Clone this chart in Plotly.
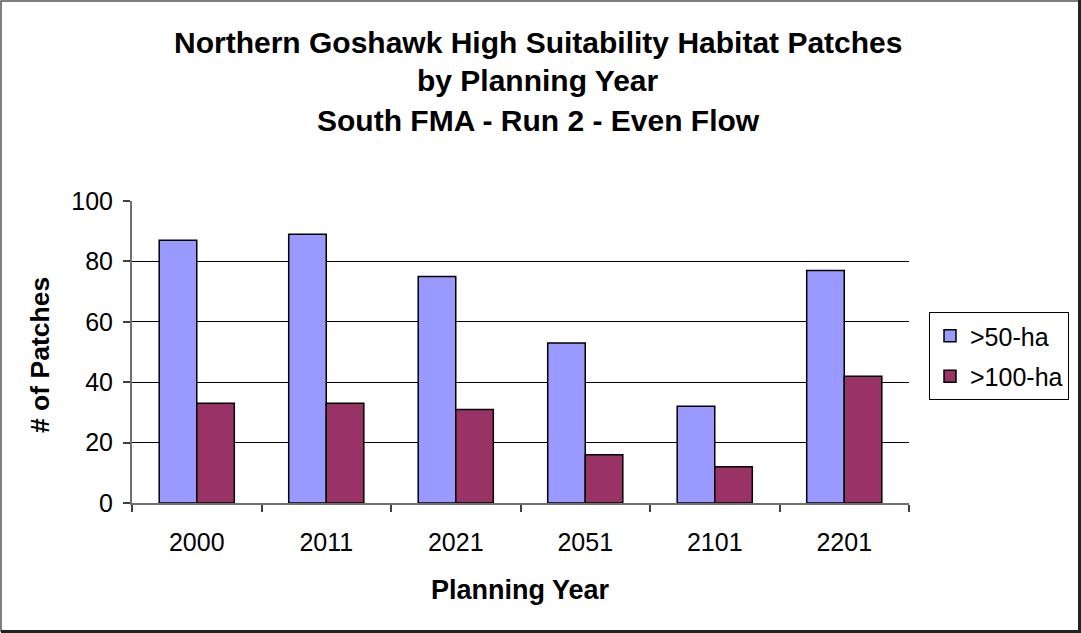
import plotly.graph_objects as go

years = ["2000", "2011", "2021", "2051", "2101", "2201"]
ha50 = [87, 89, 75, 53, 32, 77]
ha100 = [33, 33, 31, 16, 12, 42]
series_names = [">50-ha", ">100-ha"]
title_lines = ["Northern Goshawk High Suitability Habitat Patches",
               "by Planning Year",
               "South FMA - Run 2 - Even Flow"]
y_ticks = [0, 20, 40, 60, 80, 100]

W, H = 1081, 633
L, R, T, B = 132, 909, 201, 503
pw, ph = R - L, B - T

def px_x(x):
    return (x - L) / pw

def px_y(y):
    return (B - y) / ph

FONT = "Liberation Sans, Arial, sans-serif"

fig = go.Figure()
fig.add_trace(go.Bar(x=years, y=ha50, name=series_names[0], legendgroup="a",
                     marker=dict(color="#9999FF", line=dict(color="black", width=1.5))))
fig.add_trace(go.Bar(x=years, y=ha100, name=series_names[1], legendgroup="b",
                     marker=dict(color="#993366", line=dict(color="black", width=1.5))))

annotations = []
for txt, yy in zip(title_lines, [42, 81, 120]):
    annotations.append(dict(text="<b>%s</b>" % txt, x=px_x(538), y=px_y(yy),
                            xref="paper", yref="paper", showarrow=False,
                            xanchor="center", yanchor="middle",
                            font=dict(family=FONT, size=30, color="black")))
annotations.append(dict(text="<b>Planning Year</b>", x=px_x(520), y=px_y(590),
                        xref="paper", yref="paper", showarrow=False,
                        xanchor="center", yanchor="middle",
                        font=dict(family=FONT, size=27, color="black")))
annotations.append(dict(text="<b># of Patches</b>", x=px_x(40), y=px_y(355),
                        xref="paper", yref="paper", showarrow=False, textangle=-90,
                        xanchor="center", yanchor="middle",
                        font=dict(family=FONT, size=26.5, color="black")))

shapes = [
    dict(type="rect", xref="paper", yref="paper",
         x0=px_x(1), x1=px_x(1079), y0=px_y(631), y1=px_y(1),
         line=dict(color="#555555", width=1.5)),
    dict(type="line", xref="paper", yref="paper",
         x0=px_x(1), x1=px_x(1081), y0=px_y(631.5), y1=px_y(631.5),
         line=dict(color="#222222", width=3)),
    dict(type="line", xref="paper", yref="paper",
         x0=px_x(1079.5), x1=px_x(1079.5), y0=px_y(633), y1=px_y(0),
         line=dict(color="#222222", width=3)),
]

fig.update_layout(
    width=W, height=H,
    margin=dict(l=L, r=W - R, t=T, b=H - B, pad=0),
    paper_bgcolor="white", plot_bgcolor="white",
    barmode="group", bargap=0.42, bargroupgap=0,
    font=dict(family=FONT, size=25, color="black"),
    showlegend=True,
    legend=dict(x=px_x(929), y=px_y(312), xanchor="left", yanchor="top",
                bordercolor="black", borderwidth=1, bgcolor="white",
                tracegroupgap=5,
                font=dict(family=FONT, size=25, color="black")),
    annotations=annotations,
    shapes=shapes,
)
fig.update_xaxes(type="category", showgrid=False, showline=True, linecolor="#707070",
                 linewidth=2, ticks="outside", tickson="boundaries", ticklen=7,
                 tickcolor="#404040", tickwidth=1.5, ticklabelstandoff=16,
                 tickfont=dict(family=FONT, size=25, color="black"))
fig.update_yaxes(range=[0, 100], tickvals=y_ticks, showgrid=True, gridcolor="black",
                 gridwidth=1, showline=True, linecolor="#707070", linewidth=2,
                 ticks="outside", ticklen=7, tickcolor="#404040", tickwidth=1.5,
                 zeroline=False, ticklabelstandoff=5,
                 tickfont=dict(family=FONT, size=25, color="black"))

fig.write_html("out.html", config={"displayModeBar": False},
               post_script="document.body.style.margin='0';document.body.style.padding='0';")
